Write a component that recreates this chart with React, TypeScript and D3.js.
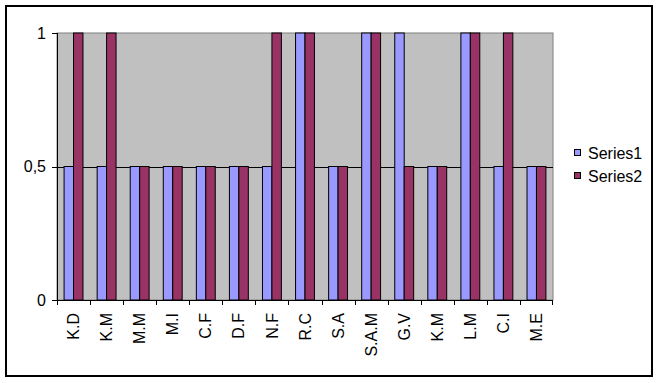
import React from "react";
import * as d3 from "d3";

const categories = ["K.D", "K.M", "M.M", "M.I", "C.F", "D.F", "N.F", "R.C", "S.A", "S.A.M", "G.V", "K.M", "L.M", "C.I", "M.E"];
const series1 = [0.5, 0.5, 0.5, 0.5, 0.5, 0.5, 0.5, 1, 0.5, 1, 1, 0.5, 1, 0.5, 0.5];
const series2 = [1, 1, 0.5, 0.5, 0.5, 0.5, 1, 1, 0.5, 1, 0.5, 0.5, 1, 1, 0.5];
const seriesNames = ["Series1", "Series2"];
const seriesColors = ["#9999FF", "#993366"];
const yTicks = [0, 0.5, 1];
const yTickLabels = ["0", "0,5", "1"];

const W = 660;
const H = 383;
const plot = { left: 57, right: 553, top: 33, bottom: 300 };
const font = "'Liberation Sans', Arial, sans-serif";

export default function App() {
  const x = d3
    .scaleBand<number>()
    .domain(categories.map((_, i) => i))
    .range([plot.left, plot.right])
    .padding(0);
  const y = d3.scaleLinear().domain([0, 1]).range([plot.bottom, plot.top]);
  const bw = x.bandwidth();
  const barW = bw / 3.5;
  const groupOffset = (bw - 2 * barW) / 2;
  const allSeries = [series1, series2];

  return (
    <svg
      width={W}
      height={H}
      style={{ position: "absolute", left: 0, top: 0, background: "#fff" }}
      fontFamily={font}
    >
      <rect x={6} y={6} width={646} height={370} fill="#fff" stroke="#000" strokeWidth={2} />
      {/* plot area */}
      <rect
        x={plot.left}
        y={plot.top}
        width={plot.right - plot.left}
        height={plot.bottom - plot.top}
        fill="#C0C0C0"
        stroke="#808080"
        strokeWidth={1}
      />
      {/* gridlines */}
      {yTicks
        .filter((t) => t > 0 && t < 1)
        .map((t) => (
          <line key={t} x1={plot.left} x2={plot.right} y1={Math.round(y(t)) + 0.5} y2={Math.round(y(t)) + 0.5} stroke="#000" />
        ))}
      {/* bars */}
      {allSeries.map((s, si) =>
        s.map((v, i) => {
          const bx = (x(i) as number) + groupOffset + si * barW;
          return (
            <rect
              key={`${si}-${i}`}
              x={bx}
              y={y(v)}
              width={barW}
              height={y(0) - y(v)}
              fill={seriesColors[si]}
              stroke="#000"
              strokeWidth={1}
            />
          );
        })
      )}
      {/* y axis */}
      <line x1={plot.left + 0.5} x2={plot.left + 0.5} y1={plot.top} y2={plot.bottom} stroke="#000" />
      {yTicks.map((t, i) => (
        <g key={t}>
          <line x1={plot.left - 5} x2={plot.left} y1={Math.round(y(t)) + 0.5} y2={Math.round(y(t)) + 0.5} stroke="#000" />
          <text x={46} y={y(t)} dy="0.35em" textAnchor="end" fontSize={16} fill="#000">
            {yTickLabels[i]}
          </text>
        </g>
      ))}
      {/* x axis */}
      <line x1={plot.left} x2={plot.right} y1={plot.bottom + 0.5} y2={plot.bottom + 0.5} stroke="#000" />
      {categories.map((_, i) => (
        <line
          key={`t${i}`}
          x1={Math.round(x(i) as number) + 0.5}
          x2={Math.round(x(i) as number) + 0.5}
          y1={plot.bottom}
          y2={plot.bottom + 5}
          stroke="#000"
        />
      ))}
      <line
        x1={plot.right - 0.5}
        x2={plot.right - 0.5}
        y1={plot.bottom}
        y2={plot.bottom + 5}
        stroke="#000"
      />
      {categories.map((c, i) => {
        const cx = (x(i) as number) + bw / 2;
        return (
          <text
            key={`l${i}`}
            transform={`translate(${cx},313) rotate(-90)`}
            textAnchor="end"
            dy="0.35em"
            fontSize={16}
            fill="#000"
          >
            {c}
          </text>
        );
      })}
      {/* legend */}
      {seriesNames.map((n, i) => {
        const ly = 153 + i * 23;
        return (
          <g key={n}>
            <rect x={574.5} y={ly - 3.5} width={6} height={6} fill={seriesColors[i]} stroke="#000" />
            <text x={588} y={ly} dy="0.35em" fontSize={16} fill="#000">
              {n}
            </text>
          </g>
        );
      })}
    </svg>
  );
}
